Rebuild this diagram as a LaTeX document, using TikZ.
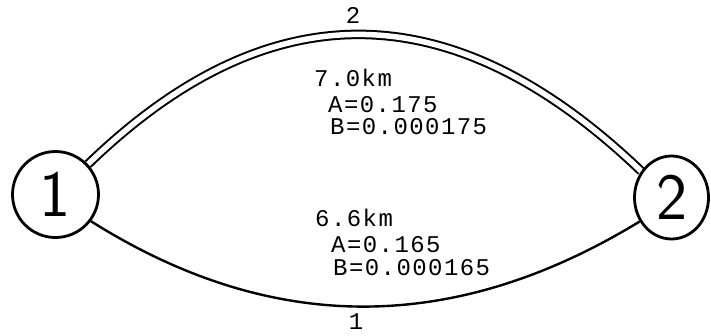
\documentclass[tikz,border=0pt]{standalone}
\usepackage{fontspec}
\newfontfamily\mono[LetterSpace=6]{Liberation Mono}
\usetikzlibrary{shapes.geometric}
\pgfdeclarelayer{bg}
\pgfsetlayers{bg,main}
\newcommand\bigdig{\sffamily\fontsize{66}{66}\selectfont}
\newcommand\infofont{\mono\fontsize{24}{24}\selectfont}
\begin{document}
\begin{tikzpicture}[x=1pt,y=-1pt,
  nodecirc/.style={draw, line width=2.8pt, fill=white, inner sep=0pt, font=\bigdig},
  link/.style={line width=2.4pt},
  dlink/.style={line width=2pt, double=white, double distance=5.5pt},
  info/.style={font=\infofont, anchor=base west, inner sep=0pt},
  elabel/.style={font=\infofont, inner sep=0pt}]
\useasboundingbox (0,0) rectangle (711,335);
\node[nodecirc, circle, minimum size=86pt] (n1) at (55.5,194.5) {1};
\node[nodecirc, ellipse, minimum width=74pt, minimum height=83pt] (n2) at (671.5,197.5) {2};
\begin{pgfonlayer}{bg}
\draw[dlink] (n1.43) .. controls (269,-11) and (453,-9) .. (n2.139);
\draw[link] (n1.-37) .. controls (270,334) and (452,336) .. (n2.217);
\end{pgfonlayer}
\node[elabel] (e2) at (353,15) {2};
\node[elabel] (e1) at (356,322) {1};
\node[info] (t1) at (314,86) {7.0km};
\node[info] (t2) at (328,112.5) {A=0.175};
\node[info] (t3) at (330,134.5) {B=0.000175};
\node[info] (t4) at (315,226.5) {6.6km};
\node[info] (t5) at (331,252.3) {A=0.165};
\node[info] (t6) at (333,275) {B=0.000165};
\end{tikzpicture}
\end{document}
